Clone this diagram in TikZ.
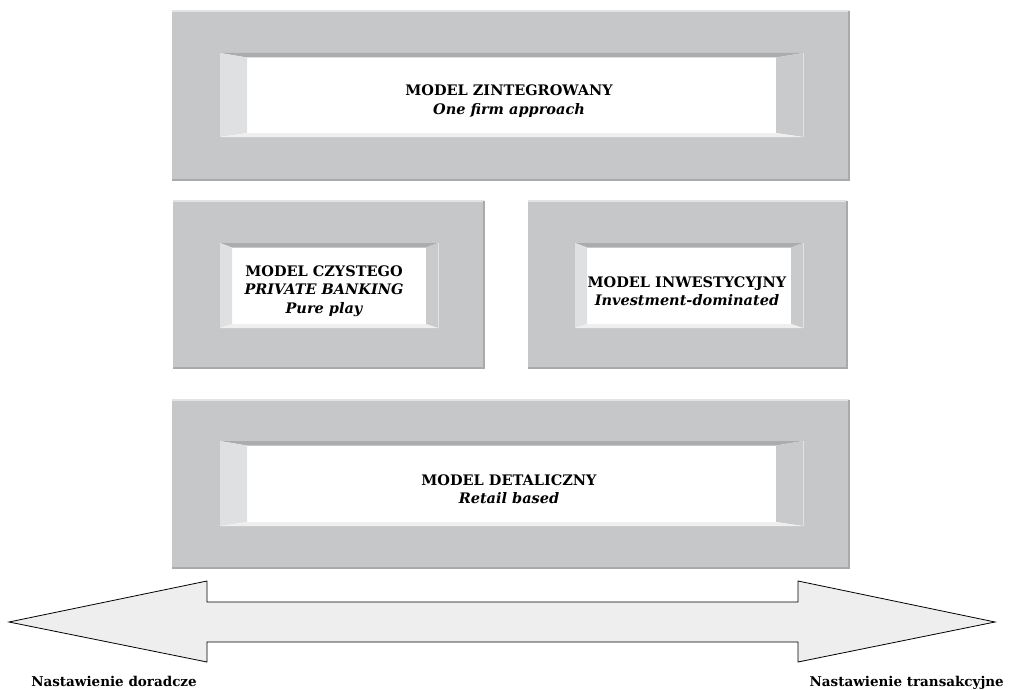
\documentclass[tikz,border=0pt]{standalone}
\usepackage{fontspec}
\setmainfont{DejaVu Serif}
\usetikzlibrary{calc}
\definecolor{boxgray}{HTML}{C6C7C9}
\definecolor{edgelight}{HTML}{E2E3E5}
\definecolor{edgedark}{HTML}{A9AAAC}
\definecolor{bandtop}{HTML}{ABACAE}
\definecolor{stripleft}{HTML}{DFE0E2}
\definecolor{stripright}{HTML}{C9CACC}
\definecolor{bandbottom}{HTML}{EFEFF0}
\definecolor{arrowfill}{HTML}{EEEEEE}
\newcommand\bevelbox[9]{%
  \fill[boxgray] (#1,#2) rectangle (#3,#4);
  \draw[edgelight, line width=1.2pt] (#1,#2) -- (#3,#2);
  \draw[edgedark, line width=1.2pt] (#3,#2) -- (#3,#4) -- (#1,#4);
  \fill[white] (#5,#6) rectangle (#7,#8);
  \fill[bandtop] (#5,#6) -- (#7,#6) -- ({#7-#9},{#6+4.5}) -- ({#5+#9},{#6+4.5}) -- cycle;
  \fill[stripleft] (#5,#6) -- ({#5+#9},{#6+4.5}) -- ({#5+#9},{#8-4}) -- (#5,#8) -- cycle;
  \fill[stripright] (#7,#6) -- ({#7-#9},{#6+4.5}) -- ({#7-#9},{#8-4}) -- (#7,#8) -- cycle;
  \fill[bandbottom] (#5,#8) -- ({#5+#9},{#8-4}) -- ({#7-#9},{#8-4}) -- (#7,#8) -- cycle;
  \draw[edgelight, line width=1pt] (#7,#6) -- (#7,#8);
}
\tikzset{
  boxtext/.style={align=center, font=\fontsize{14.5}{18.5}\selectfont\bfseries, inner sep=0pt},
  sidelabel/.style={font=\fontsize{13.5}{16}\selectfont\bfseries, inner sep=0pt, anchor=base},
  bigarrow/.style={draw=black, line width=0.8pt, fill=arrowfill, line join=miter}
}
\begin{document}
\begin{tikzpicture}[x=1pt, y=-1pt]
\useasboundingbox (0,0) rectangle (1011,690);
% panels
\bevelbox{172}{11}{849}{180}{220}{53}{803}{137}{27}
\bevelbox{173}{201}{484}{368}{220}{243}{438}{328}{12}
\bevelbox{528}{201}{847}{368}{575}{243}{803}{328}{12}
\bevelbox{172}{400}{849}{568}{220}{441}{803}{526}{27}
% texts
\node[boxtext] (zint) at (509,101) {MODEL ZINTEGROWANY\\\itshape One firm approach};
\node[boxtext] (czyst) at (324,291) {MODEL CZYSTEGO\\\itshape PRIVATE BANKING\\\itshape Pure play};
\node[boxtext] (inwest) at (687,291) {MODEL INWESTYCYJNY\\\itshape Investment-dominated};
\node[boxtext] (detal) at (509,489) {MODEL DETALICZNY\\\itshape Retail based};
% double arrow
\coordinate (ltip) at (9,622);
\coordinate (rtip) at (995,622);
\draw[bigarrow] (ltip) -- (207,581) -- (207,602) -- (798,602) -- (798,581) -- (rtip)
  -- (798,662) -- (798,642) -- (207,642) -- (207,662) -- cycle;
\node[sidelabel] (lewy) at (114,686) {Nastawienie doradcze};
\node[sidelabel, anchor=base east] (prawy) at (1004,686) {Nastawienie transakcyjne};
\end{tikzpicture}
\end{document}
